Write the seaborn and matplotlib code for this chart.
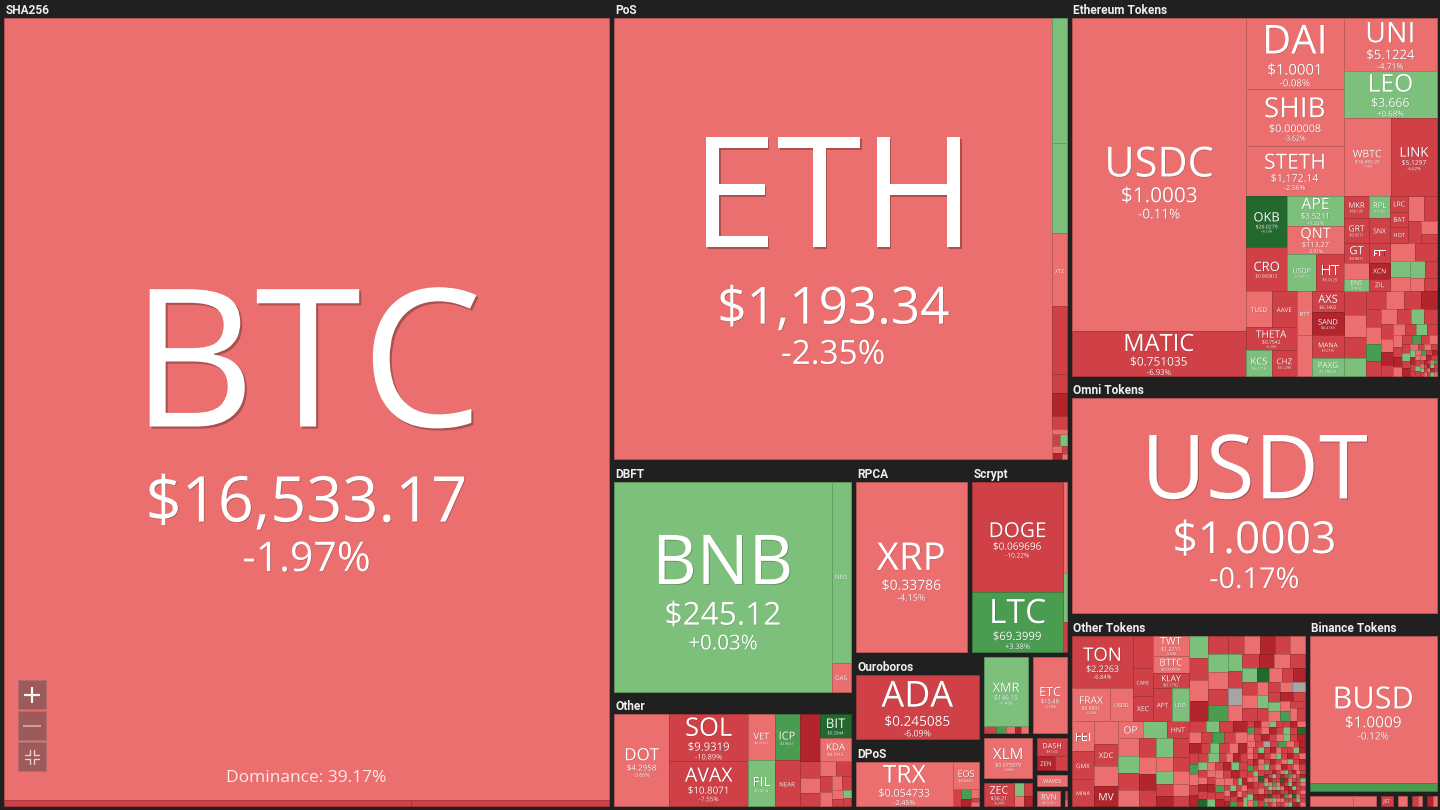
import re
import numpy as np
import pandas as pd
import seaborn as sns
import matplotlib
matplotlib.use("Agg")
import matplotlib.pyplot as plt
from matplotlib.patches import Rectangle
from matplotlib.textpath import TextPath
from matplotlib.font_manager import FontProperties, fontManager
import matplotlib.patheffects as pe

# ------------------------------------------------------------------ data
# named coins: market cap (bn USD, read from tile areas), price label, 24h change %
coins = ["BTC", "BCH", "BSV",
         "ETH", "ATOM", "ALGO", "XTZ", "EGLD", "FLOW", "KAVA", "ONE", "CELO",
         "BNB", "NEO", "GAS", "XRP", "DOGE", "LTC", "ADA", "TRX", "EOS",
         "DOT", "SOL", "AVAX", "VET", "FIL", "ICP", "NEAR", "HBAR", "BIT", "KDA",
         "XMR", "ETC", "XLM", "ZEC", "DASH", "ZEN", "DGB", "WAVES", "RVN",
         "USDC", "MATIC", "DAI", "SHIB", "STETH", "UNI", "LEO", "WBTC", "LINK",
         "OKB", "CRO", "APE", "QNT", "USDP", "HT", "TUSD", "AAVE", "THETA", "KCS", "CHZ", "BTT", "NEXO",
         "AXS", "SAND", "MANA", "PAXG", "MKR", "RPL", "GRT", "SNX", "GT", "FTT", "CUSDC", "XCN", "ENS", "ZIL",
         "LRC", "BAT", "HOT",
         "USDT",
         "TON", "FRAX", "USDD", "GUSD", "CAKE", "XEC", "TWT", "BTTC", "KLAY", "APT", "LDO",
         "BUSD", "WBNB", "JST", "SUN"]
market_cap_bn = [340.7, 1.75, 0.85,
                 142.7, 1.335, 0.951, 0.780, 0.726, 0.203, 0.246, 0.139, 0.053,
                 35.87, 2.70, 0.43, 15.62, 8.33, 4.52, 7.73, 4.70, 0.79,
                 4.48, 3.25, 3.18, 1.07, 1.05, 1.02, 1.01, 0.86, 0.63, 0.61,
                 2.51, 2.18, 1.66, 0.63, 0.50, 0.22, 0.156, 0.40, 0.38,
                 40.69, 5.92, 5.23, 4.10, 3.66, 3.665, 3.28, 2.75, 2.69,
                 1.573, 1.357, 1.27, 1.185, 0.80, 0.765, 0.712, 0.671, 0.872, 0.507, 0.478, 0.518, 0.477,
                 0.508, 0.543, 0.543, 0.425, 0.43, 0.347, 0.47, 0.376, 0.384, 0.307, 0.307, 0.245, 0.23, 0.184,
                 0.22, 0.21, 0.218,
                 60.91,
                 2.573, 0.992, 0.601, 0.530, 0.434, 0.402, 0.578, 0.506, 0.434, 0.496, 0.444,
                 15.49, 0.89, 0.177, 0.146]
prices = ["$16,533.17", "$101.35", "$41.27",
          "$1,193.34", "$9.6215", "$0.2379", "$0.8612", "$38.61", "$0.9112", "$0.7054", "$0.0148", "$0.5432",
          "$245.12", "$6.5412", "$1.9812", "$0.33786", "$0.069696", "$69.3999", "$0.245085", "$0.054733", "$0.8451",
          "$4.2958", "$9.9319", "$10.8071", "$0.01612", "$3.0214", "$3.9547", "$1.4211", "$0.0387", "$0.3344", "$0.7312",
          "$146.15", "$15.48", "$0.075079", "$38.21", "$41.62", "$8.91", "$0.0081", "$1.94", "$0.0191",
          "$1.0003", "$0.751035", "$1.0001", "$0.000008", "$1,172.14", "$5.1224", "$3.666", "$16,456.26", "$5.1297",
          "$26.0279", "$0.060812", "$3.5211", "$113.27", "$1.0011", "$5.0129", "$1.0002", "$55.63", "$0.7542", "$5.2716", "$0.1298", "$0.0000006", "$0.7521",
          "$6.1402", "$0.4183", "$0.3156", "$1,786.21", "$561.20", "$17.92", "$0.0571", "$1.5512", "$3.9811", "$1.3620", "$0.0226", "$0.0304", "$10.52", "$0.0189",
          "$0.2121", "$0.1752", "$0.0017",
          "$1.0003",
          "$2.2263", "$0.9991", "$0.9965", "$1.0012", "$3.4617", "$0.0000222", "$1.2711", "$0.0000006", "$0.1702", "$3.6400", "$1.0181",
          "$1.0009", "$244.90", "$0.0192", "$0.0051"]
change_pct = [-1.97, -5.62, -6.04,
              -2.35, 1.21, 0.84, -1.52, -6.48, -7.11, -13.2, -6.30, -2.10,
              0.03, 1.05, -3.21, -4.15, -10.22, 3.38, -6.09, -2.45, -3.92,
              -3.66, -10.89, -7.55, -4.42, 0.92, 3.61, -7.92, -12.60, 6.21, -4.81,
              1.42, -4.18, -3.06, -6.20, -7.30, -12.80, -6.10, -3.30, -2.60,
              -0.11, -6.93, -0.08, -3.62, -2.56, -4.71, 0.68, -1.96, -6.62,
              6.12, -8.14, 1.32, -2.91, 0.21, -7.04, -0.12, -7.71, -6.35, 1.14, -7.36, -2.13, -1.87,
              -7.92, -12.40, -8.66, 0.33, -6.70, 1.10, -7.40, -6.80, -5.70, -8.20, -0.31, -14.10, 0.90, -9.10,
              -8.10, -7.20, -5.50,
              -0.17,
              -6.84, -0.25, -0.41, -5.80, -7.20, -6.90, -3.30, -3.10, -8.50, -7.70, 1.72,
              -0.12, 3.90, -7.40, -2.20]
assert len(coins) == len(market_cap_bn) == len(prices) == len(change_pct)

# small tiles in dense blocks: block total (bn USD) and "<weight><colour code>[:NAME]" tokens
pos_small_total, pos_small = 0.265, "7R 6g 5r 4D 3R 2r"
scrypt_small_total, scrypt_small = 0.56, "30r 16g 10R"
dpos_small_total, dpos_small = 0.47, "15R 10G 8D 7r 4R 3r"
other_small_total, other_small = 2.05, "30R 25r 22R 20r 18R 15R 13r 12r 10R 8r 6R 5g 5R"
xmr_small_total, xmr_small = 0.26, "7R 6G 5r 4D 4r"
zec_small_total, zec_small = 0.39, "12g 10R 9r 8D"
misc_small_total, misc_small = 0.09, "5R 4r"
eth_b1_total, eth_b1 = 1.009, "30r 25R 20R 15r 11R"
eth_b2_total, eth_b2 = 1.69, "35r 30R 25g 20r 18g 15R 13r 13R"
eth_low_total = 5.96
eth_low = ("40R 36r 33R 30g 28R 26r 24R 22D 21R 20r 19G 18R 17r 16R 15g 14R 13R 12r 11D 10R "
           "10r 9R 9g 8R 8r 7R 7D 6r 6R 6G 5R 5r 5R 4g 4R 4D 4r 3R 3r 3R 3g 3D 3R 2R 2r 2G "
           "2R 2D 2r 2R 2g 2R 2r 2D 2R 1R 1r 1g 1R 1D 1R 1r 1G 1R 1R 1r 1D 1g 1R 1r 1R 1D 1R 1g 1r")
ot_low_total = 8.03
ot_low = ("55r:FEI 50R:GMX 48R:MINA 45r 42R:XDC 40r 38D:MV 36r:OP 34g 32R:HNT 30r 29g 28R 27r "
          "26R 25g 24R 23r 22D 21R 20r 19R 18g 17r 16R 15D 14r 13R")
ot_up_total = 7.89
ot_up = ("30g 28R 27r 26D 25R 24g 23r 22R 21G 20R 20r 19D 19R 18r 18g 17R 17z 16r 16R 15D 15r "
         "14R 14g 13R 13r 12R 12E 12r 11R 11D 10r 10g 10R 9R 9r 9z 8R 8g 8r 8D 7R 7r 7G 7R 6r 6R")
ot_mid_total = 3.98
ot_mid = ("6R5g5R5D4r4R4G4R4r4D3R3g3R3r3D3R3G3r3R3D3R3g2R2r2D2R2g2R2r2D2R2E2r2R2D2g2R2r2R2D2R2g"
          "2r2R2D2R2r2G2R2D2r1R1g1D1R1r1R1D1g1R1r1D1R1G1r1R1D1R1g")
ot_noise_total = 3.95
ot_noise = ("3R3D3r3g3R3R3D3r3G3R3r3D3R3g3R3E3r3R3D3R3r3g3R3D3r3R3z3R3G3r"
            "2R2D2r2R2g2R2D2r2R2R2g2D2r2R2G2R2r2D2R2g2r2R2D2R2r2g2R2D2R2r"
            "2D2R2g2r2R2R2D2G2r2R2D2R2r2g2R2D2r2R2E2R2r2D2R2g2R2r2D2R2r2R"
            "1R1D1r1g1R1R1D1r1G1R1R1D1r1g1R1E1r1R1D1R1r1g1R1D1r1R1z1R1G1r"
            "1D1R1g1r1R1D1R1G1r1R1D1R1r1g1D1R1r1R1E1D1r1R1R1g1D1r1R1D1r1R"
            "1R1g1D1R1r1D1R1G1R1r1D1g1R1R1D1r1R1g1D1R1r1E1R1D1r1R1g1D1R1r")
bn_s1_total, bn_s1 = 0.74, "49r 25r"
bn_s4_total, bn_s4 = 0.156, "10R 6r"
bn_s5_total, bn_s5 = 0.156, "9D 7r"

dominance_label = "Dominance: 39.17%"

# ------------------------------------------------------------------ style
BG = "#202020"
sns.set_theme(style="dark", rc={"figure.facecolor": BG, "axes.facecolor": BG})
avail = {f.name for f in fontManager.ttflist}
TILE_FONT = "Open Sans" if "Open Sans" in avail else "DejaVu Sans"
if "Liberation Sans Narrow" in avail:
    HDR_FONT, HDR_SIZE = "Liberation Sans Narrow", 10.0
elif "Roboto" in avail:
    HDR_FONT, HDR_SIZE = "Roboto", 8.6
else:
    HDR_FONT, HDR_SIZE = "DejaVu Sans", 8.0
plt.rcParams["font.family"] = [TILE_FONT, "DejaVu Sans"]

codes = list("DRrzgGE")
pal = dict(zip(codes, sns.color_palette(["#b3252c", "#cf4147", "#eb6f6f", "#a5a5a5",
                                         "#7cc07c", "#4a9c50", "#23692e"])))


def code_for(chg):
    if chg >= 5: return "E"
    if chg >= 2: return "G"
    if chg > 0: return "g"
    if chg == 0: return "z"
    if chg > -5: return "r"
    if chg > -12: return "R"
    return "D"


CAP = dict(zip(coins, market_cap_bn))
PRICE = dict(zip(coins, prices))
CHG = dict(zip(coins, change_pct))

TOKEN_RE = re.compile(r"(\d+)([DRrzgGE])(?::([A-Z0-9]+))?")
DENSE = {}
for key, total, spec in [("pos_small", pos_small_total, pos_small),
                         ("scrypt_small", scrypt_small_total, scrypt_small),
                         ("dpos_small", dpos_small_total, dpos_small),
                         ("other_small", other_small_total, other_small),
                         ("xmr_small", xmr_small_total, xmr_small),
                         ("zec_small", zec_small_total, zec_small),
                         ("misc_small", misc_small_total, misc_small),
                         ("eth_b1", eth_b1_total, eth_b1),
                         ("eth_b2", eth_b2_total, eth_b2),
                         ("eth_low", eth_low_total, eth_low),
                         ("ot_low", ot_low_total, ot_low),
                         ("ot_up", ot_up_total, ot_up),
                         ("ot_mid", ot_mid_total, ot_mid),
                         ("ot_noise", ot_noise_total, ot_noise),
                         ("bn_s1", bn_s1_total, bn_s1),
                         ("bn_s4", bn_s4_total, bn_s4),
                         ("bn_s5", bn_s5_total, bn_s5)]:
    toks = TOKEN_RE.findall(spec)
    DENSE[key] = (total, pd.DataFrame({"w": [float(t[0]) for t in toks],
                                       "code": [t[1] for t in toks],
                                       "name": [t[2] for t in toks]}))


# ------------------------------------------------------------------ layout tree
def H(*c): return ("h", list(c))
def V(*c): return ("v", list(c))
def G(label, c): return ("g", label, c)
def B(c): return ("b", c)
def S(k): return ("s", k)


layout = H(
    G("SHA256", V("BTC", H("BCH", "BSV"))),
    H(
        V(
            G("PoS", H("ETH", V("ATOM", "ALGO", "XTZ", "EGLD", "FLOW", "KAVA", "ONE", "CELO", S("pos_small")))),
            H(
                V(G("DBFT", H("BNB", V("NEO", "GAS"))),
                  G("Other", H("DOT", V("SOL", "AVAX"), V("VET", "FIL"), V("ICP", "NEAR"),
                               V(H("HBAR", V("BIT", "KDA")), S("other_small"))))),
                V(H(G("RPCA", "XRP"), G("Scrypt", H(V("DOGE", "LTC"), S("scrypt_small")))),
                  H(V(G("Ouroboros", "ADA"), G("DPoS", H("TRX", V("EOS", S("dpos_small"))))),
                    V(H(B(V("XMR", S("xmr_small"))), B("ETC")),
                      H(V(B("XLM"), B(H("ZEC", S("zec_small")))),
                        V(B(V("DASH", H("ZEN", "DGB"))), B("WAVES"), H(B("RVN"), B(S("misc_small"))))))))
            )
        ),
        V(
            G("Ethereum Tokens", H(V("USDC", "MATIC"),
                V(H(V("DAI", "SHIB", "STETH"), V("UNI", "LEO", H("WBTC", "LINK"))),
                  H(V(H(V("OKB", "CRO"), V("APE", "QNT", H("USDP", "HT"))),
                      H(V(H("TUSD", "AAVE"), "THETA", H("KCS", "CHZ")), V("BTT", "NEXO"),
                        V("AXS", "SAND", "MANA", "PAXG"))),
                    V(H(V(H("MKR", "RPL"), H("GRT", "SNX"), H("GT", "FTT"), H("CUSDC", "XCN"), H("ENS", "ZIL")),
                        V(H(V("LRC", "BAT", "HOT"), S("eth_b1")), S("eth_b2"))),
                      S("eth_low")))))),
            G("Omni Tokens", "USDT"),
            H(G("Other Tokens", H(V(H(V("TON", H("FRAX", "USDD")), V("GUSD", "CAKE", "XEC"),
                                       V("TWT", "BTTC", "KLAY", H("APT", "LDO"))), S("ot_low")),
                                   V(S("ot_up"), H(S("ot_mid"), S("ot_noise"))))),
              V(G("Binance Tokens", V("BUSD", "WBNB")),
                H(B(S("bn_s1")), B("JST"), B("SUN"), B(S("bn_s4")), B(S("bn_s5")))))
        )
    )
)

PAD, HDR = 2.5, 20.0
ROOT = (1.5, -2.0, 1438.0, 810.5)


def value(n):
    if isinstance(n, str):
        return CAP[n]
    if n[0] == "s":
        return DENSE[n[1]][0]
    if n[0] in ("g", "b"):
        return value(n[-1])
    return sum(value(c) for c in n[1])


def squarify(vals, x, y, w, h):
    order = sorted(range(len(vals)), key=lambda i: -vals[i])
    tot = sum(vals)
    areas = [vals[i] * w * h / tot for i in order]
    out = [None] * len(vals)
    k = 0
    while k < len(areas):
        side = max(min(w, h), 1e-9)

        def worst(r):
            s = sum(r)
            return max(max(side * side * a / (s * s), s * s / (side * side * a)) for a in r)
        row = [areas[k]]
        j = k + 1
        while j < len(areas) and worst(row + [areas[j]]) <= worst(row):
            row.append(areas[j])
            j += 1
        s = sum(row)
        if w >= h:
            cw = s / max(h, 1e-9)
            yy = y
            for a, idx in zip(row, order[k:j]):
                rh = a / max(cw, 1e-9)
                out[idx] = (x, yy, cw, rh)
                yy += rh
            x += cw
            w -= cw
        else:
            rh = s / max(w, 1e-9)
            xx = x
            for a, idx in zip(row, order[k:j]):
                cw = a / max(rh, 1e-9)
                out[idx] = (xx, y, cw, rh)
                xx += cw
            y += rh
            h -= rh
        k = j
    return out


tiles, small_tiles, headers = [], [], []


def place(n, x, y, w, h):
    if isinstance(n, str):
        tiles.append((n, x, y, w, h))
        return
    t = n[0]
    if t == "g":
        headers.append((n[1], x, y, w))
        place(n[2], x + PAD, y + HDR, w - 2 * PAD, h - HDR - PAD)
        return
    if t == "b":
        place(n[1], x + PAD, y + PAD, w - 2 * PAD, h - 2 * PAD)
        return
    if t == "s":
        df = DENSE[n[1]][1]
        for (rx, ry, rw, rh), code, name in zip(squarify(list(df["w"]), x, y, w, h), df["code"], df["name"]):
            small_tiles.append((code, name, rx, ry, rw, rh))
        return
    kids = n[1]
    vals = [value(c) for c in kids]
    tot = sum(vals)
    if t == "h":
        xx = x
        for c, v in zip(kids, vals):
            cw = w * v / tot
            place(c, xx, y, cw, h)
            xx += cw
    else:
        yy = y
        for c, v in zip(kids, vals):
            ch = h * v / tot
            place(c, x, yy, w, ch)
            yy += ch


place(layout, *ROOT)

# ------------------------------------------------------------------ drawing
fig = plt.figure(figsize=(14.4, 8.1), dpi=100)
fig.patch.set_facecolor(BG)
ax = fig.add_axes([0, 0, 1, 1])
ax.set_xlim(0, 1440)
ax.set_ylim(810, 0)
ax.axis("off")

FP = FontProperties(family=TILE_FONT)
_wcache = {}


def tw(s):
    if s not in _wcache:
        _wcache[s] = max(TextPath((0, 0), s, size=1, prop=FP).get_extents().width, 1e-3)
    return _wcache[s]


CAPH = TextPath((0, 0), "H", size=1, prop=FP).get_extents().height


def darker(c, f=0.8):
    return tuple(v * f for v in c[:3])


def draw_rect(x, y, w, h, col):
    ax.add_patch(Rectangle((x, y), w, h, facecolor=col, edgecolor=darker(col), linewidth=0.55))


def draw_label(x, y, w, h, name, price=None, chg=None):
    if w < 12 or h < 9 or not name:
        return
    wf = 0.60 - 0.06 * float(np.clip((w - 350.0) / 250.0, 0.0, 1.0))
    eN = min(wf * w / tw(name), 0.40 * h / CAPH)
    if eN < 5:
        return
    parts, gaps = [(name, eN)], []
    if price:
        eP = min(0.5 * eN, 0.52 * w / tw(price))
        if eP >= 3.2:
            parts.append((price, eP))
            gaps.append(0.26 * eN)
            if chg is not None:
                eC = 0.65 * eP
                if eC >= 3.0:
                    parts.append((f"{chg:+.2f}%", eC))
                    gaps.append(0.32 * eP)
    total = sum(CAPH * e for _, e in parts) + sum(gaps)
    s = min(1.0, 0.9 * h / total)
    yb = y + h / 2 - total * s / 2 + 0.027 * h
    for i, (t, e) in enumerate(parts):
        e *= s
        yb += CAPH * e
        fs = e * 0.72
        off = max(0.25, 0.011 * fs)
        ax.text(x + w / 2, yb, t, fontsize=fs, family=TILE_FONT, color="white",
                ha="center", va="baseline",
                path_effects=[pe.withSimplePatchShadow(offset=(off, -off), shadow_rgbFace="black", alpha=0.28)])
        if i < len(gaps):
            yb += gaps[i] * s


for code, name, x, y, w, h in small_tiles:
    draw_rect(x, y, w, h, pal[code])
    draw_label(x, y, w, h, name)

for name, x, y, w, h in tiles:
    draw_rect(x, y, w, h, pal[code_for(CHG[name])])
    draw_label(x, y, w, h, name, PRICE[name], CHG[name])

for label, x, y, w in headers:
    ax.text(x + 4, y + 16, label, fontsize=HDR_SIZE, family=HDR_FONT, fontweight="bold",
            color="#eeeeee", ha="left", va="baseline")

# BTC tile extras: dominance text and zoom controls
bx, by, bw, bh = [t[1:] for t in tiles if t[0] == "BTC"][0]
ax.text(bx + bw / 2, by + bh - 18, dominance_label, fontsize=12.5, family=TILE_FONT,
        color="#fbe9e9", ha="center", va="baseline")
btn_col = "#9c5a5a"
for i, off in enumerate([120, 89, 58]):
    x0, y0, s = bx + 14, by + bh - off, 29
    ax.add_patch(Rectangle((x0, y0), 28, s, facecolor=btn_col, edgecolor="#b56c6c", linewidth=0.6))
    cx, cy = x0 + 14, y0 + s / 2
    if i == 0:
        ax.plot([cx - 8, cx + 8], [cy, cy], color="#fff4f4", lw=1.6, solid_capstyle="butt")
        ax.plot([cx, cx], [cy - 8, cy + 8], color="#fff4f4", lw=1.6, solid_capstyle="butt")
    elif i == 1:
        ax.plot([cx - 9, cx + 9], [cy, cy], color="#d9a3a3", lw=1.3, solid_capstyle="butt")
    else:
        for sx in (-1, 1):
            for sy in (-1, 1):
                px, py = cx + sx * 2, cy + sy * 2
                ax.plot([px, px + sx * 5], [py, py], color="#f0caca", lw=1.0)
                ax.plot([px, px], [py, py + sy * 5], color="#f0caca", lw=1.0)

fig.savefig("out.png", dpi=100, facecolor=BG)
